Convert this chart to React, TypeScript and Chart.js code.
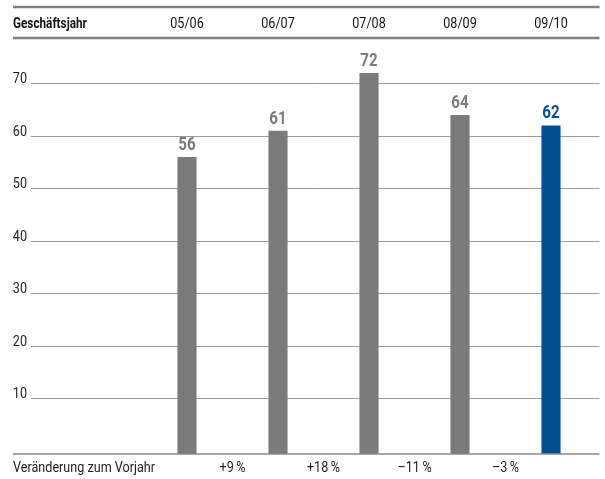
import React, { useEffect, useRef } from "react";
import { Chart, registerables } from "chart.js";

Chart.register(...registerables);

const categories = ["05/06", "06/07", "07/08", "08/09", "09/10"];
const values = [56, 61, 72, 64, 62];
const changeLabels = ["+9\u2009%", "+18\u2009%", "\u201311\u2009%", "\u20133\u2009%"];
const yTicks = [10, 20, 30, 40, 50, 60, 70];
const headerLabel = "Geschäftsjahr";
const footerLabel = "Veränderung zum Vorjahr";

const GRAY = "#7a7a7b";
const BLUE = "#004f93";
const barColors = [GRAY, GRAY, GRAY, GRAY, BLUE];
const FONT = "Roboto, sans-serif";
const SX = 0.84;

function text(ctx: any, s: string, x: number, y: number, align: string, font: string, color: string, sx = SX) {
  ctx.save();
  ctx.font = font;
  ctx.fillStyle = color;
  ctx.textAlign = align;
  ctx.textBaseline = "alphabetic";
  ctx.translate(x, y);
  ctx.scale(sx, 1);
  ctx.fillText(s, 0, 0);
  ctx.restore();
}

const decorPlugin = {
  id: "decor",
  beforeDatasetsDraw(chart: any) {
    const ctx = chart.ctx;
    const y = chart.scales.y;
    const area = chart.chartArea;
    ctx.save();
    ctx.strokeStyle = "#9a9a9a";
    ctx.lineWidth = 1;
    for (const t of yTicks) {
      const py = Math.round(y.getPixelForValue(t)) + 0.5;
      ctx.beginPath();
      ctx.moveTo(31, py);
      ctx.lineTo(area.right + 3, py);
      ctx.stroke();
      text(ctx, String(t), 27, py - 1, "right", `15px ${FONT}`, "#222");
    }
    ctx.restore();
  },
  afterDatasetsDraw(chart: any) {
    const ctx = chart.ctx;
    const x = chart.scales.x;
    const area = chart.chartArea;
    const meta = chart.getDatasetMeta(0);
    ctx.save();
    ctx.strokeStyle = "#808080";
    ctx.lineWidth = 2.5;
    ctx.beginPath();
    ctx.moveTo(13, 7);
    ctx.lineTo(area.right + 3, 7);
    ctx.moveTo(13, 38);
    ctx.lineTo(area.right + 3, 38);
    ctx.stroke();
    ctx.strokeStyle = "#8a8a8a";
    ctx.lineWidth = 1.5;
    ctx.beginPath();
    ctx.moveTo(13, area.bottom);
    ctx.lineTo(area.right + 3, area.bottom);
    ctx.stroke();
    ctx.restore();

    text(ctx, headerLabel, 13, 28, "left", `bold 14px ${FONT}`, "#111", 0.84);
    categories.forEach((c, i) => {
      text(ctx, c, x.getPixelForValue(i), 28, "center", `15px ${FONT}`, "#111");
    });
    text(ctx, footerLabel, 13, 472, "left", `15px ${FONT}`, "#222");
    changeLabels.forEach((lab, i) => {
      const mx = (x.getPixelForValue(i) + x.getPixelForValue(i + 1)) / 2;
      text(ctx, lab, mx, 472, "center", `15px ${FONT}`, "#222");
    });
    meta.data.forEach((bar: any, i: number) => {
      text(ctx, String(values[i]), bar.x, bar.y - 7, "center", `bold 18px ${FONT}`, barColors[i]);
    });
  },
};

export default function App() {
  const ref = useRef<HTMLCanvasElement>(null);
  useEffect(() => {
    if (!ref.current) return;
    const chart = new Chart(ref.current, {
      type: "bar",
      data: {
        labels: categories,
        datasets: [
          {
            data: values,
            backgroundColor: barColors,
            barPercentage: 0.21,
            categoryPercentage: 1,
            base: -0.6,
          } as any,
        ],
      },
      options: {
        responsive: false,
        animation: false,
        layout: { padding: { left: 141.5, right: 8.5, top: 57.25, bottom: 25 } },
        scales: {
          x: { display: false },
          y: { display: false, min: -0.6, max: 75 },
        },
        plugins: { legend: { display: false }, tooltip: { enabled: false } },
      },
      plugins: [decorPlugin],
    });
    return () => chart.destroy();
  }, []);
  return (
    <div style={{ position: "fixed", left: 0, top: 0, width: 605, height: 479, background: "#fff" }}>
      <canvas ref={ref} width={605} height={479} style={{ display: "block" }} />
    </div>
  );
}
